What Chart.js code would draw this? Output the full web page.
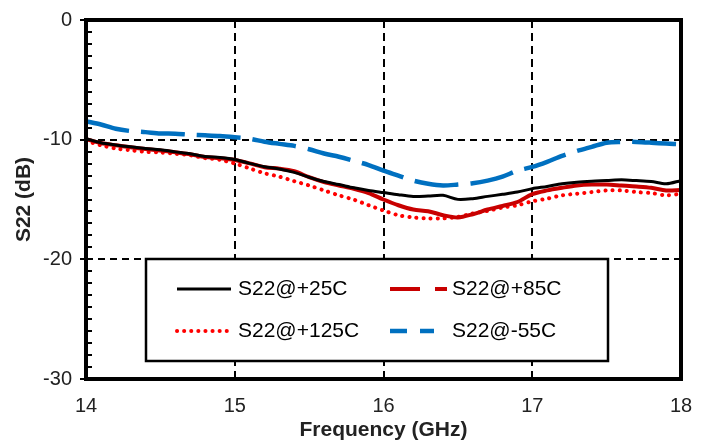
<!DOCTYPE html>
<html>
<head>
<meta charset="utf-8">
<script src="https://cdn.jsdelivr.net/npm/chart.js@4/dist/chart.umd.min.js"></script>
<style>
  body { margin: 0; background: #fff; }
  canvas { display: block; }
</style>
</head>
<body>
<canvas id="s22" width="708" height="443"></canvas>
<script>
// frequency points, GHz
const freq = [14.0, 14.1, 14.2, 14.3, 14.4, 14.5, 14.6, 14.7, 14.8, 14.9,
              15.0, 15.1, 15.2, 15.3, 15.4, 15.5, 15.6, 15.7, 15.8, 15.9,
              16.0, 16.1, 16.2, 16.3, 16.4, 16.5, 16.6, 16.7, 16.8, 16.9,
              17.0, 17.1, 17.2, 17.3, 17.4, 17.5, 17.6, 17.7, 17.8, 17.9, 18.0]

// S22 in dB
const s22_25 = [-9.92, -10.25, -10.44, -10.6, -10.74, -10.85, -11.02, -11.18, -11.4, -11.49,
                -11.65, -11.98, -12.26, -12.45, -12.73, -13.14, -13.5, -13.75, -14.02, -14.24,
                -14.42, -14.6, -14.74, -14.71, -14.65, -14.99, -14.93, -14.74, -14.57, -14.38,
                -14.1, -13.91, -13.69, -13.55, -13.47, -13.42, -13.36, -13.42, -13.5, -13.69, -13.42]
const s22_85 = [-9.95, -10.28, -10.47, -10.63, -10.78, -10.9, -11.06, -11.22, -11.45, -11.55,
                -11.7, -11.98, -12.31, -12.42, -12.64, -13.14, -13.55, -13.83, -14.1, -14.46,
                -15.0, -15.48, -15.84, -15.98, -16.31, -16.5, -16.23, -15.84, -15.54, -15.21,
                -14.55, -14.24, -14.02, -13.83, -13.75, -13.75, -13.83, -13.91, -14.02, -14.24, -14.2]
const s22_125 = [-10.1, -10.47, -10.74, -10.88, -11.02, -11.07, -11.18, -11.3, -11.54, -11.68,
                 -12.0, -12.4, -12.81, -13.09, -13.47, -13.83, -14.24, -14.65, -15.01, -15.48,
                 -15.92, -16.31, -16.5, -16.58, -16.58, -16.45, -16.17, -15.95, -15.67, -15.48,
                 -15.15, -14.93, -14.65, -14.52, -14.38, -14.24, -14.24, -14.38, -14.46, -14.65, -14.52]
const s22_m55 = [-8.46, -8.73, -9.09, -9.28, -9.37, -9.48, -9.5, -9.59, -9.64, -9.7,
                 -9.8, -9.92, -10.17, -10.35, -10.52, -10.8, -11.16, -11.43, -11.76, -12.12,
                 -12.59, -13.0, -13.42, -13.69, -13.83, -13.75, -13.64, -13.42, -13.09, -12.59,
                 -12.28, -11.85, -11.35, -10.95, -10.6, -10.25, -10.19, -10.19, -10.25, -10.33, -10.39]

const seriesNames = ['S22@+25C', 'S22@+85C', 'S22@+125C', 'S22@-55C']
const xTicks = [14, 15, 16, 17, 18]
const yTicks = [0, -10, -20, -30]

function pts(vals) {
    return vals.map((v, i) => ({x: freq[i], y: v}))
}

const gridColor = (ctx) => {
    let v = ctx.tick.value
    if (ctx.scale.axis === 'x') return (v > 14 && v < 18) ? '#000' : 'rgba(0,0,0,0)'
    return (v < 0 && v > -30) ? '#000' : 'rgba(0,0,0,0)'
}

// frame, minor ticks and the boxed legend
const extras = {
    id: 'extras',
    beforeDraw(chart) {
        const c = chart.ctx
        c.save()
        c.fillStyle = '#fff'
        c.fillRect(0, 0, chart.width, chart.height)
        c.restore()
    },
    afterDatasetsDraw(chart) {
        const c = chart.ctx
        const a = chart.chartArea
        const y = chart.scales.y
        c.save()
        // minor ticks on the inside of the left axis
        c.strokeStyle = '#000'
        c.lineWidth = 2
        for (let v = -29; v < 0; v++) {
            if (v % 10 === 0) continue
            let py = Math.round(y.getPixelForValue(v))
            c.beginPath()
            c.moveTo(a.left, py)
            c.lineTo(a.left + 6, py)
            c.stroke()
        }
        c.lineWidth = 4
        c.strokeRect(a.left, a.top, a.right - a.left, a.bottom - a.top)

        // legend box
        const bx = 146, by = 259, bw = 462, bh = 102
        c.fillStyle = '#fff'
        c.fillRect(bx, by, bw, bh)
        c.lineWidth = 2.5
        c.strokeRect(bx, by, bw, bh)

        const rows = [
            {i: 0, x1: 177, x2: 231, y: 289, tx: 238},
            {i: 1, x1: 390, x2: 447, y: 289, tx: 452, dash: [30, 15]},
            {i: 2, x1: 177, x2: 229, y: 331, tx: 238},
            {i: 3, x1: 390, x2: 434, y: 331, tx: 452, dash: [17, 13]}
        ]
        rows.forEach(r => {
            const ds = chart.data.datasets[r.i]
            c.strokeStyle = ds.borderColor
            c.lineWidth = ds.borderWidth
            c.lineCap = ds.borderCapStyle || 'butt'
            c.setLineDash(r.dash || ds.borderDash || [])
            c.beginPath()
            c.moveTo(r.x1, r.y)
            c.lineTo(r.x2, r.y)
            c.stroke()
            c.setLineDash([])
            c.fillStyle = '#000'
            c.font = '21px "Liberation Sans", Arial, sans-serif'
            c.textBaseline = 'middle'
            c.textAlign = 'left'
            c.fillText(seriesNames[r.i], r.tx, r.y)
        })
        c.restore()
    }
}

const data = {
    datasets: [
        {
            label: seriesNames[0], data: pts(s22_25),
            borderColor: '#000000', borderWidth: 3
        },
        {
            label: seriesNames[1], data: pts(s22_85),
            borderColor: '#c80000', borderWidth: 4
        },
        {
            label: seriesNames[2], data: pts(s22_125),
            borderColor: '#ff0000', borderWidth: 4,
            borderDash: [0.1, 7], borderCapStyle: 'round'
        },
        {
            label: seriesNames[3], data: pts(s22_m55),
            borderColor: '#0070c0', borderWidth: 4.5,
            borderDash: [44, 12]
        }
    ]
}

const config = {
    type: 'line',
    data: data,
    plugins: [extras],
    options: {
        responsive: false,
        animation: false,
        devicePixelRatio: 1,
        layout: {padding: {left: 0, right: 27, top: 16, bottom: 0}},
        elements: {
            point: {radius: 0},
            line: {tension: 0.3, fill: false}
        },
        plugins: {
            legend: {display: false},
            tooltip: {enabled: false}
        },
        scales: {
            x: {
                type: 'linear',
                min: 14, max: 18,
                afterFit: (s) => { s.height = 64 },
                afterBuildTicks: (s) => { s.ticks = xTicks.map(v => ({value: v})) },
                grid: {color: gridColor, lineWidth: 2, drawTicks: false},
                border: {display: false, dash: [8, 5]},
                ticks: {
                    padding: 15, color: '#222',
                    font: {family: '"Liberation Sans", Arial, sans-serif', size: 20}
                },
                title: {
                    display: true, text: 'Frequency (GHz)', color: '#222',
                    padding: {top: 0, bottom: 0},
                    font: {family: '"Liberation Sans", Arial, sans-serif', size: 21, weight: 'bold'}
                }
            },
            y: {
                type: 'linear',
                min: -30, max: 0,
                afterFit: (s) => { s.width = 86 },
                afterBuildTicks: (s) => { s.ticks = yTicks.map(v => ({value: v})) },
                grid: {color: gridColor, lineWidth: 2, drawTicks: true, tickLength: 6, tickColor: '#000', tickWidth: 2},
                border: {display: false, dash: [7, 5]},
                ticks: {
                    padding: 8, color: '#222',
                    font: {family: '"Liberation Sans", Arial, sans-serif', size: 20}
                },
                title: {
                    display: true, text: 'S22 (dB)', color: '#222',
                    padding: {top: 12, bottom: 0},
                    font: {family: '"Liberation Sans", Arial, sans-serif', size: 21, weight: 'bold'}
                }
            }
        }
    }
}

new Chart(document.getElementById('s22').getContext('2d'), config)
</script>
</body>
</html>
